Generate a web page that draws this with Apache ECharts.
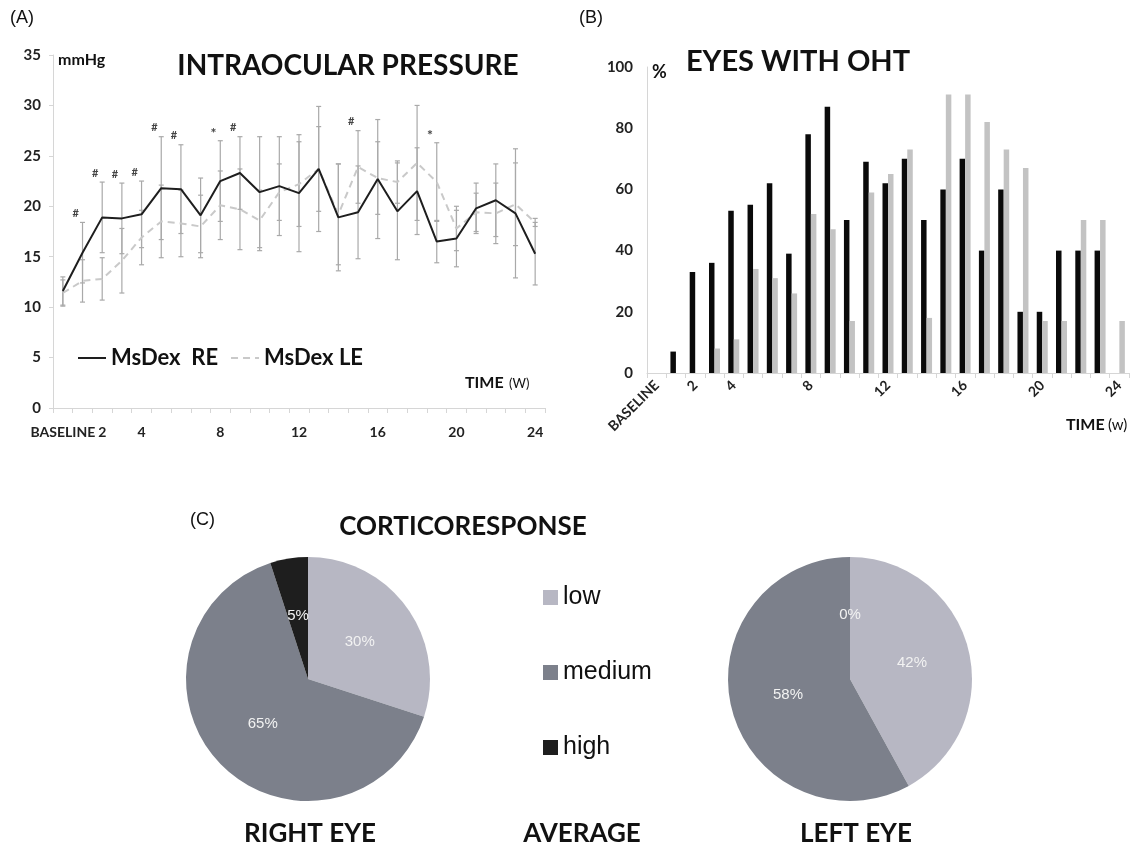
<!DOCTYPE html>
<html>
<head>
<meta charset="utf-8">
<script src="https://cdn.jsdelivr.net/npm/echarts@6/dist/echarts.min.js"></script>
<style>
  html, body { margin: 0; padding: 0; background: #fff; }
  #chart { width: 1131px; height: 845px; }
</style>
</head>
<body>
<div id="chart"></div>
<script>
// weeks: baseline + week 1..24
const weeks = ['BASELINE', '1', '2', '3', '4', '5', '6', '7', '8', '9', '10', '11', '12',
  '13', '14', '15', '16', '17', '18', '19', '20', '21', '22', '23', '24'];
const shownWeeks = [0, 2, 4, 8, 12, 16, 20, 24];

// (A) intraocular pressure, mmHg
const iopRE = [11.6, 15.4, 18.9, 18.8, 19.2, 21.8, 21.7, 19.1, 22.5, 23.3, 21.4, 22.0, 21.3,
  23.7, 18.9, 19.4, 22.7, 19.5, 21.5, 16.5, 16.8, 19.8, 20.6, 19.3, 15.3];
const iopRESd = [1.4, 3.0, 3.5, 3.5, 3.3, 5.1, 4.4, 3.7, 4.0, 3.6, 5.5, 4.9, 5.8,
  6.2, 5.3, 4.6, 5.9, 4.8, 4.3, 2.1, 2.8, 2.5, 3.6, 6.4, 3.1];
const iopLE = [11.4, 12.6, 12.8, 14.6, 16.9, 18.5, 18.3, 18.0, 20.1, 19.7, 18.6, 21.4, 22.2,
  23.7, 19.2, 23.9, 22.8, 22.4, 24.3, 22.4, 17.8, 19.4, 19.3, 20.2, 18.4];
const iopLESd = [1.3, 2.1, 2.1, 3.2, 2.7, 3.6, 3.3, 3.1, 3.4, 4.0, 3.0, 2.8, 4.2,
  4.2, 5.0, 3.6, 3.6, 2.1, 5.7, 3.9, 2.2, 1.9, 3.0, 4.1, 0.4];
// significance marks above the bars
const sigWeeks = [1, 2, 3, 4, 5, 6, 8, 9, 15, 19];
const sigSymbols = ['#', '#', '#', '#', '#', '#', '*', '#', '#', '*'];

// (B) eyes with OHT, %
const ohtRE = [0, 7, 33, 36, 53, 55, 62, 39, 78, 87, 50, 69, 62, 70, 50, 60, 70, 40, 60, 20, 20, 40, 40, 40, 0];
const ohtLE = [0, 0, 0, 8, 11, 34, 31, 26, 52, 47, 17, 59, 65, 73, 18, 91, 91, 82, 73, 67, 17, 17, 50, 50, 17];

// (C) corticoresponse, %
const responseLevels = ['low', 'medium', 'high'];
const responseRight = [30, 65, 5];
const responseLeft = [42, 58, 0];
const pieColors = ['#b7b7c3', '#7c808b', '#1e1e1e'];

const boldFont = 'Lato, "Open Sans", sans-serif';
const plainFont = '"Liberation Sans", Arial, sans-serif';

function errorBarItem(params, api) {
  const i = api.value(0);
  const m = api.value(1);
  const sd = api.value(2);
  const hi = api.coord([i, m + sd]);
  const lo = api.coord([i, m - sd]);
  const cap = 2.5;
  const st = { stroke: '#a9a9a9', lineWidth: 1.2 };
  return {
    type: 'group',
    children: [
      { type: 'line', shape: { x1: hi[0], y1: hi[1], x2: lo[0], y2: lo[1] }, style: st },
      { type: 'line', shape: { x1: hi[0] - cap, y1: hi[1], x2: hi[0] + cap, y2: hi[1] }, style: st },
      { type: 'line', shape: { x1: lo[0] - cap, y1: lo[1], x2: lo[0] + cap, y2: lo[1] }, style: st }
    ]
  };
}

function sigItem(params, api) {
  const i = api.value(0);
  const p = api.coord([i, api.value(1)]);
  const band = api.size([1, 0])[0];
  const sym = sigSymbols[params.dataIndex];
  return {
    type: 'text',
    x: p[0] - band * 0.35,
    y: sym === '*' ? p[1] + 2 : p[1],
    style: {
      text: sym,
      font: 'bold ' + (sym === '*' ? 14 : 11) + 'px ' + boldFont,
      fill: '#444',
      align: 'center', verticalAlign: 'middle',
      textAlign: 'center', textVerticalAlign: 'middle'
    }
  };
}

function txt(text, x, y, font, align) {
  return {
    type: 'text', x: x, y: y,
    style: {
      text: text, font: font, fill: '#111',
      align: align || 'left', verticalAlign: 'middle',
      textAlign: align || 'left', textVerticalAlign: 'middle'
    }
  };
}

const chart = echarts.init(document.getElementById('chart'));

const catAxisCommon = {
  type: 'category',
  data: weeks,
  boundaryGap: true,
  axisLine: { lineStyle: { color: '#d6d6d6', width: 1 } },
  axisTick: { show: true, interval: 0, length: 5, lineStyle: { color: '#d6d6d6' } }
};

const options = {
  backgroundColor: '#fff',
  animation: false,
  grid: [
    { left: 53, top: 55, width: 492, height: 353 },
    { left: 647, top: 67, width: 482, height: 306 }
  ],
  xAxis: [
    Object.assign({}, catAxisCommon, {
      gridIndex: 0,
      axisLabel: {
        interval: (idx) => shownWeeks.indexOf(idx) >= 0,
        margin: 17,
        fontFamily: boldFont, fontWeight: 'bold', fontSize: 14, color: '#222'
      }
    }),
    Object.assign({}, catAxisCommon, {
      gridIndex: 1,
      axisLabel: {
        interval: (idx) => shownWeeks.indexOf(idx) >= 0,
        rotate: 45,
        margin: 10,
        fontFamily: boldFont, fontWeight: 'bold', fontSize: 14, color: '#222'
      }
    })
  ],
  yAxis: [
    {
      gridIndex: 0, type: 'value', min: 0, max: 35, interval: 5,
      splitLine: { show: false },
      axisLine: { show: true, lineStyle: { color: '#d6d6d6' } },
      axisTick: { show: true, length: 4, lineStyle: { color: '#d6d6d6' } },
      axisLabel: { margin: 12, fontFamily: boldFont, fontWeight: 'bold', fontSize: 15, color: '#222' }
    },
    {
      gridIndex: 1, type: 'value', min: 0, max: 100, interval: 20,
      splitLine: { show: false },
      axisLine: { show: true, lineStyle: { color: '#d6d6d6' } },
      axisTick: { show: false },
      axisLabel: { margin: 14, fontFamily: boldFont, fontWeight: 'bold', fontSize: 15, color: '#222' }
    }
  ],
  legend: [
    {
      data: ['MsDex  RE', 'MsDex LE'],
      left: 72, top: 342,
      itemWidth: 28, itemGap: 12,
      itemStyle: { opacity: 0, borderWidth: 0 },
      textStyle: { fontFamily: boldFont, fontWeight: 'bold', fontSize: 22, color: '#111' },
      selectedMode: false
    },
    {
      data: responseLevels,
      orient: 'vertical',
      left: 538, top: 580,
      icon: 'rect', itemWidth: 15, itemHeight: 15, itemGap: 50,
      textStyle: { fontFamily: plainFont, fontSize: 25, color: '#111' },
      selectedMode: false
    }
  ],
  series: [
    {
      name: 'RE sd', type: 'custom', xAxisIndex: 0, yAxisIndex: 0,
      renderItem: errorBarItem, z: 1,
      data: iopRE.map((v, i) => [i, v, iopRESd[i]])
    },
    {
      name: 'LE sd', type: 'custom', xAxisIndex: 0, yAxisIndex: 0,
      renderItem: errorBarItem, z: 1,
      data: iopLE.map((v, i) => [i, v, iopLESd[i]])
    },
    {
      name: 'MsDex LE', type: 'line', xAxisIndex: 0, yAxisIndex: 0,
      data: iopLE, symbol: 'none', z: 3,
      lineStyle: { color: '#c9c9c9', width: 2, type: [7, 5] },
      itemStyle: { color: '#c9c9c9' }
    },
    {
      name: 'MsDex  RE', type: 'line', xAxisIndex: 0, yAxisIndex: 0,
      data: iopRE, symbol: 'none', z: 4,
      lineStyle: { color: '#1e1e1e', width: 2 },
      itemStyle: { color: '#1e1e1e' }
    },
    {
      name: 'sig', type: 'custom', xAxisIndex: 0, yAxisIndex: 0,
      renderItem: sigItem, z: 5,
      data: sigWeeks.map((w) => [w, Math.max(iopRE[w] + iopRESd[w], iopLE[w] + iopLESd[w]) + 0.9])
    },
    {
      name: 'OHT RE', type: 'bar', xAxisIndex: 1, yAxisIndex: 1,
      data: ohtRE, barWidth: 5.5, barGap: '0%',
      itemStyle: { color: '#0a0a0a' }
    },
    {
      name: 'OHT LE', type: 'bar', xAxisIndex: 1, yAxisIndex: 1,
      data: ohtLE, barWidth: 5.5, barGap: '0%',
      itemStyle: { color: '#c3c3c3' }
    },
    {
      name: 'Right eye', type: 'pie',
      center: [308, 679], radius: 122,
      startAngle: 90, clockwise: true,
      color: pieColors,
      label: {
        position: 'inside', color: '#f2f2f2',
        fontFamily: plainFont, fontSize: 15,
        formatter: (p) => Math.round(p.percent) + '%'
      },
      labelLine: { show: false },
      emphasis: { disabled: true },
      data: responseLevels.map((n, i) => ({ name: n, value: responseRight[i] }))
    },
    {
      name: 'Left eye', type: 'pie',
      center: [850, 679], radius: 122,
      startAngle: 90, clockwise: true,
      color: pieColors,
      label: {
        position: 'inside', color: '#f2f2f2',
        fontFamily: plainFont, fontSize: 15,
        formatter: (p) => Math.round(p.percent) + '%'
      },
      labelLine: { show: false },
      emphasis: { disabled: true },
      data: responseLevels.map((n, i) => ({ name: n, value: responseLeft[i] }))
    }
  ],
  graphic: [
    txt('(A)', 10, 18, '18px ' + plainFont),
    txt('(B)', 579, 18, '18px ' + plainFont),
    txt('(C)', 190, 520, '18px ' + plainFont),
    txt('INTRAOCULAR PRESSURE', 348, 66, 'bold 28px ' + boldFont, 'center'),
    txt('mmHg', 58, 60, 'bold 16px ' + boldFont),
    txt('TIME', 465, 383, 'bold 16px ' + boldFont),
    txt('(W)', 509, 384, '13px ' + boldFont),
    txt('EYES WITH OHT', 798, 62, 'bold 29px ' + boldFont, 'center'),
    txt('%', 652, 72, 'bold 18px ' + boldFont),
    txt('TIME', 1066, 425, 'bold 16px ' + boldFont),
    txt('(w)', 1108, 425, '15px ' + boldFont),
    txt('CORTICORESPONSE', 463, 527, 'bold 26px ' + boldFont, 'center'),
    txt('RIGHT EYE', 310, 834, 'bold 26px ' + boldFont, 'center'),
    txt('AVERAGE', 582, 834, 'bold 26px ' + boldFont, 'center'),
    txt('LEFT EYE', 856, 834, 'bold 26px ' + boldFont, 'center')
  ]
};

chart.setOption(options);
</script>
</body>
</html>
